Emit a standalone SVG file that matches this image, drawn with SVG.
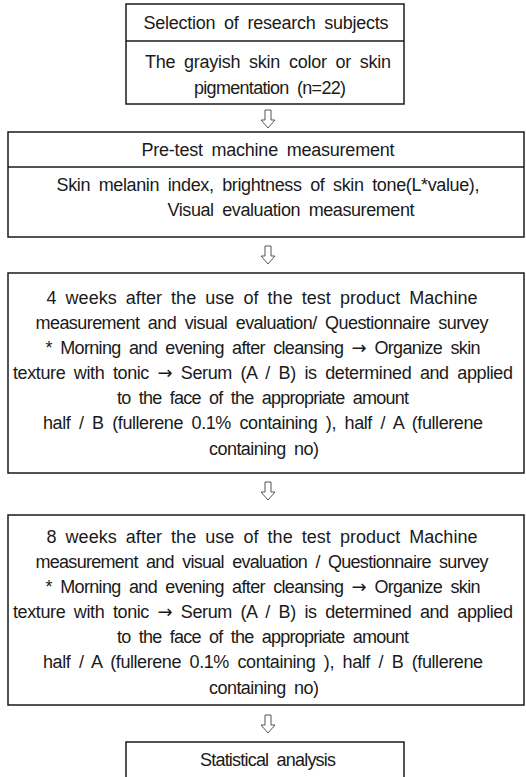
<svg xmlns="http://www.w3.org/2000/svg" width="526" height="777" viewBox="0 0 526 777">
  <style>
    .box { fill: #ffffff; stroke: #1a1a1a; stroke-width: 1.5; }
    .rule { stroke: #1a1a1a; stroke-width: 1.5; }
    .t { font-family: "Liberation Sans", Arial, sans-serif; font-size: 18px; fill: #1a1a1a; text-anchor: middle; word-spacing: 4px; }
    .ar { font-family: "DejaVu Sans", sans-serif; }
    .arrow { fill: #ffffff; stroke: #555; stroke-width: 1; stroke-linejoin: miter; }
  </style>
  <defs>
    <path id="down" d="M-3,0 H3 V10 H7 L0,18 L-7,10 H-3 Z"/>
  </defs>
  <rect width="526" height="777" fill="#ffffff"/>

  <!-- connectors: hollow down arrows between steps -->
  <g id="connectors">
    <use href="#down" class="arrow" x="268" y="110"/>
    <use href="#down" class="arrow" x="268" y="246"/>
    <use href="#down" class="arrow" x="268" y="482"/>
    <use href="#down" class="arrow" x="268" y="715"/>
  </g>

  <g id="subjects">
    <rect class="box" x="126" y="4" width="278" height="100"/>
    <line class="rule" x1="126" y1="41" x2="404" y2="41"/>
    <text class="t" x="266" y="29" textLength="245" lengthAdjust="spacing">Selection of research subjects</text>
    <text class="t" x="268" y="68" textLength="246" lengthAdjust="spacing">The grayish skin color or skin</text>
    <text class="t" x="270" y="94" textLength="152" lengthAdjust="spacing">pigmentation (n=22)</text>
  </g>

  <g id="pretest">
    <rect class="box" x="8" y="132" width="516" height="105"/>
    <line class="rule" x1="8" y1="167" x2="524" y2="167"/>
    <text class="t" x="268" y="156" textLength="253" lengthAdjust="spacing">Pre-test machine measurement</text>
    <text class="t" x="268" y="191" textLength="423" lengthAdjust="spacing">Skin melanin index, brightness of skin tone(L*value),</text>
    <text class="t" x="291" y="216" textLength="247" lengthAdjust="spacing">Visual evaluation measurement</text>
  </g>

  <g id="week4">
    <rect class="box" x="8" y="273" width="516" height="200"/>
    <text class="t" x="262" y="304" textLength="431" lengthAdjust="spacing">4 weeks after the use of the test product Machine</text>
    <text class="t" x="262" y="329" textLength="453" lengthAdjust="spacing">measurement and visual evaluation/ Questionnaire survey</text>
    <text class="t" x="263" y="354" textLength="435" lengthAdjust="spacing">* Morning and evening after cleansing <tspan class="ar">→</tspan> Organize skin</text>
    <text class="t" x="263" y="379" textLength="500" lengthAdjust="spacing">texture with tonic <tspan class="ar">→</tspan> Serum (A / B) is determined and applied</text>
    <text class="t" x="263" y="404" textLength="292" lengthAdjust="spacing">to the face of the appropriate amount</text>
    <text class="t" x="263" y="429" textLength="440" lengthAdjust="spacing">half / B (fullerene 0.1% containing ), half / A (fullerene</text>
    <text class="t" x="264" y="455" textLength="110" lengthAdjust="spacing">containing no)</text>
  </g>

  <g id="week8">
    <rect class="box" x="8" y="515" width="516" height="190"/>
    <text class="t" x="262" y="543" textLength="431" lengthAdjust="spacing">8 weeks after the use of the test product Machine</text>
    <text class="t" x="262" y="568" textLength="453" lengthAdjust="spacing">measurement and visual evaluation / Questionnaire survey</text>
    <text class="t" x="263" y="593" textLength="435" lengthAdjust="spacing">* Morning and evening after cleansing <tspan class="ar">→</tspan> Organize skin</text>
    <text class="t" x="263" y="618" textLength="500" lengthAdjust="spacing">texture with tonic <tspan class="ar">→</tspan> Serum (A / B) is determined and applied</text>
    <text class="t" x="263" y="643" textLength="292" lengthAdjust="spacing">to the face of the appropriate amount</text>
    <text class="t" x="263" y="668" textLength="440" lengthAdjust="spacing">half / A (fullerene 0.1% containing ), half / B (fullerene</text>
    <text class="t" x="264" y="694" textLength="110" lengthAdjust="spacing">containing no)</text>
  </g>

  <g id="analysis">
    <rect class="box" x="126" y="742" width="278" height="40"/>
    <text class="t" x="268" y="766" textLength="136" lengthAdjust="spacing">Statistical analysis</text>
  </g>
</svg>
